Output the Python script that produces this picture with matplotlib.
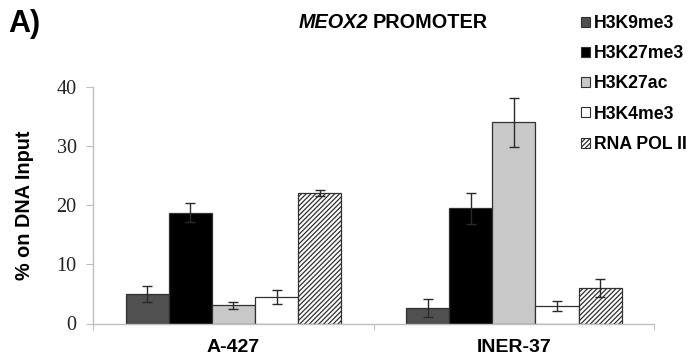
import numpy as np
import matplotlib.pyplot as plt
from matplotlib.patches import Patch

# data: % on DNA input at the MEOX2 promoter
lines = ["A-427", "INER-37"]
marks = ["H3K9me3", "H3K27me3", "H3K27ac", "H3K4me3", "RNA POL II"]
vals = {
    "H3K9me3":    [5.0, 2.6],
    "H3K27me3":   [18.7, 19.5],
    "H3K27ac":    [3.1, 34.0],
    "H3K4me3":    [4.5, 3.0],
    "RNA POL II": [22.1, 6.0],
}
errs = {
    "H3K9me3":    [1.3, 1.5],
    "H3K27me3":   [1.6, 2.6],
    "H3K27ac":    [0.6, 4.2],
    "H3K4me3":    [1.25, 0.85],
    "RNA POL II": [0.5, 1.6],
}

fills = ["#505050", "#000000", "#c8c8c8", "#ffffff", "#ffffff"]
hatches = [None, None, None, None, "///////"]

plt.rcParams['hatch.linewidth'] = 0.9
sans = ['Liberation Sans', 'DejaVu Sans']
serif = ['Liberation Serif', 'DejaVu Serif']

W, H = 692, 364
fig = plt.figure(figsize=(W / 100, H / 100), dpi=100)
ax = fig.add_axes([93.3 / W, 1 - 323.5 / H, (654 - 93.3) / W, (323.5 - 87) / H])

x = np.arange(len(lines))
w = 1 / 6.5
for i, m in enumerate(marks):
    pos = x + (i - 2) * w
    ax.bar(pos, vals[m], width=w, color=fills[i], edgecolor="#303030",
           linewidth=0.9, hatch=hatches[i], zorder=2)
    ax.errorbar(pos, vals[m], yerr=errs[m], fmt="none", ecolor="#2a2a2a",
                elinewidth=1.0, capsize=3.3, capthick=1.0, zorder=3)

ax.set_xlim(-0.5, 1.5)
ax.set_ylim(0, 40)
ax.set_yticks([0, 10, 20, 30, 40])
ax.set_xticks([-0.5, 0.5, 1.5])
ax.set_xticklabels([])
ax.set_xticks(x, minor=True)
ax.set_xticklabels(lines, minor=True, fontsize=14, fontweight="bold", family=sans)
ax.tick_params(axis="x", which="minor", length=0, pad=11)
ax.tick_params(axis="x", which="major", length=4, color="#bfbfbf")
ax.tick_params(axis="y", length=5, color="#bfbfbf", pad=7, labelsize=14.5,
               labelcolor="#222222")
for lab in ax.get_yticklabels():
    lab.set_family(serif)

for s in ["top", "right"]:
    ax.spines[s].set_visible(False)
for s in ["left", "bottom"]:
    ax.spines[s].set_color("#bfbfbf")
    ax.spines[s].set_linewidth(1.0)

ax.set_ylabel("% on DNA Input", fontsize=14.3, fontweight="bold", family=sans,
              labelpad=16)

# title with italic gene name
fig.text(368 / W, 1 - 22 / H, "MEOX2", fontsize=14.3, fontweight="bold",
         style="italic", family=sans, ha="right", va="center")
fig.text(373 / W, 1 - 22 / H, "PROMOTER", fontsize=14.3, fontweight="bold",
         family=sans, ha="left", va="center")
fig.text(8 / W, 1 - 32 / H, "A)", fontsize=22, fontweight="bold",
         family=sans, ha="left", va="baseline")

handles = [Patch(facecolor=fills[i], edgecolor="#303030", linewidth=0.8,
                 hatch=hatches[i], label=m) for i, m in enumerate(marks)]
fig.legend(handles=handles, loc="upper left",
           bbox_to_anchor=(581 / W, 1 - 15 / H), frameon=False,
           prop={"family": sans, "weight": "bold", "size": 12.7},
           handlelength=0.5, handleheight=0.5, handletextpad=0.25,
           labelspacing=0.75, borderpad=0, borderaxespad=0)

fig.savefig("out.png", dpi=100)
